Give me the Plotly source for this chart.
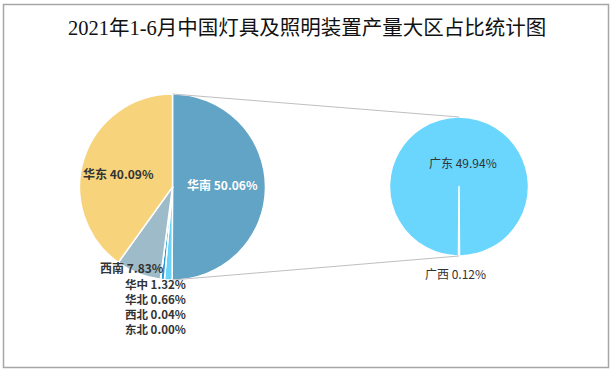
import math
import plotly.graph_objects as go

# ---- data ----
title = "2021年1-6月中国灯具及照明装置产量大区占比统计图"
regions = ["华南", "华中", "华北", "西北", "东北", "西南", "华东"]
region_share = [50.06, 1.32, 0.66, 0.04, 0.00, 7.83, 40.09]
sub_regions = ["广西", "广东"]
sub_share = [0.12, 49.94]

# ---- styling / layout ----
W, H = 614, 372
region_colors = ["#61A4C5", "#6AD3FA", "#2E9AD8", "#1F6FA8", "#17507A", "#9EBBC9", "#F7D37C"]
sub_colors = ["#6AD6FE", "#6AD6FE"]
left_c, left_r = (172.5, 187.0), 93.0
right_c, right_r = (459.0, 186.5), 69.5

# label pixel positions (centre) and colours for the big slices
left_label_pos = {
    "华南": (222, 184, "white"),
    "西南": (132, 267, "#333333"),
    "华东": (118, 173, "#333333"),
}
small_stack_pos = (187, 306)  # right edge / vertical centre of the stacked small-slice labels
right_label_pos = {"广东": (463, 162), "广西": (455, 273)}


def px(x):
    return x / W


def py(y):
    return 1 - y / H


def dom(c, r):
    return dict(x=[px(c[0] - r), px(c[0] + r)], y=[py(c[1] + r), py(c[1] - r)])


fig = go.Figure()
fig.add_trace(go.Pie(
    labels=regions, values=region_share, sort=False, direction="clockwise",
    rotation=0, domain=dom(left_c, left_r), textinfo="none", hoverinfo="label+percent",
    marker=dict(colors=region_colors, line=dict(color="white", width=1.5)),
    showlegend=False,
))

sub_angle = 360 * sub_share[0] / sum(sub_share)
fig.add_trace(go.Pie(
    labels=sub_regions, values=sub_share, sort=False, direction="clockwise",
    rotation=180 - sub_angle / 2, domain=dom(right_c, right_r), textinfo="none",
    hoverinfo="label+value",
    marker=dict(colors=sub_colors, line=dict(color="white", width=1.5)),
    showlegend=False,
))

# connector lines: from the boundaries of the first slice to top/bottom of the sub-pie
a_end = math.radians(360 * region_share[0] / sum(region_share))
p_top = (left_c[0], left_c[1] - left_r)
p_bot = (left_c[0] + left_r * math.sin(a_end), left_c[1] - left_r * math.cos(a_end))
q_top = (right_c[0], right_c[1] - right_r)
q_bot = (right_c[0], right_c[1] + right_r)
shapes = []
for (a, b) in [(p_top, q_top), (p_bot, q_bot)]:
    shapes.append(dict(type="line", xref="paper", yref="paper",
                       x0=px(a[0]), y0=py(a[1]), x1=px(b[0]), y1=py(b[1]),
                       line=dict(color="#BFBFBF", width=1)))
# outer border
shapes.append(dict(type="rect", xref="paper", yref="paper",
                   x0=px(3.5), y0=py(367.5), x1=px(608.5), y1=py(4.5),
                   line=dict(color="#A6A6A6", width=1.5)))

annotations = [dict(text=title, x=0.5, y=py(28), xref="paper", yref="paper",
                    showarrow=False, xanchor="center", yanchor="middle",
                    font=dict(family="Liberation Serif, Noto Sans CJK SC", size=20.5, color="#111111"))]
small_lines = []
for name, val in zip(regions, region_share):
    if name in left_label_pos:
        x, y, col = left_label_pos[name]
        annotations.append(dict(text=f"<b>{name} {val:.2f}%</b>", x=px(x), y=py(y),
                                xref="paper", yref="paper", showarrow=False,
                                xanchor="center", yanchor="middle",
                                font=dict(family="Noto Sans CJK SC", size=12, color=col)))
    else:
        small_lines.append(f"<b>{name} {val:.2f}%</b>")
annotations.append(dict(text="<br>".join(small_lines), x=px(small_stack_pos[0]), y=py(small_stack_pos[1]),
                        xref="paper", yref="paper", showarrow=False, align="right",
                        xanchor="right", yanchor="middle", borderpad=0,
                        font=dict(family="Noto Sans CJK SC", size=11.5, color="#333333")))
for name, val in zip(sub_regions, sub_share):
    x, y = right_label_pos[name]
    annotations.append(dict(text=f"{name} {val:.2f}%", x=px(x), y=py(y), xref="paper", yref="paper",
                            showarrow=False, xanchor="center", yanchor="middle",
                            font=dict(family="Noto Sans CJK SC", size=12, color="#333333")))

fig.update_layout(
    width=W, height=H, margin=dict(l=0, r=0, t=0, b=0),
    paper_bgcolor="white", plot_bgcolor="white",
    shapes=shapes, annotations=annotations,
)
fig.write_html("out.html", config={"displayModeBar": False},
               post_script="document.body.style.margin='0px';")
